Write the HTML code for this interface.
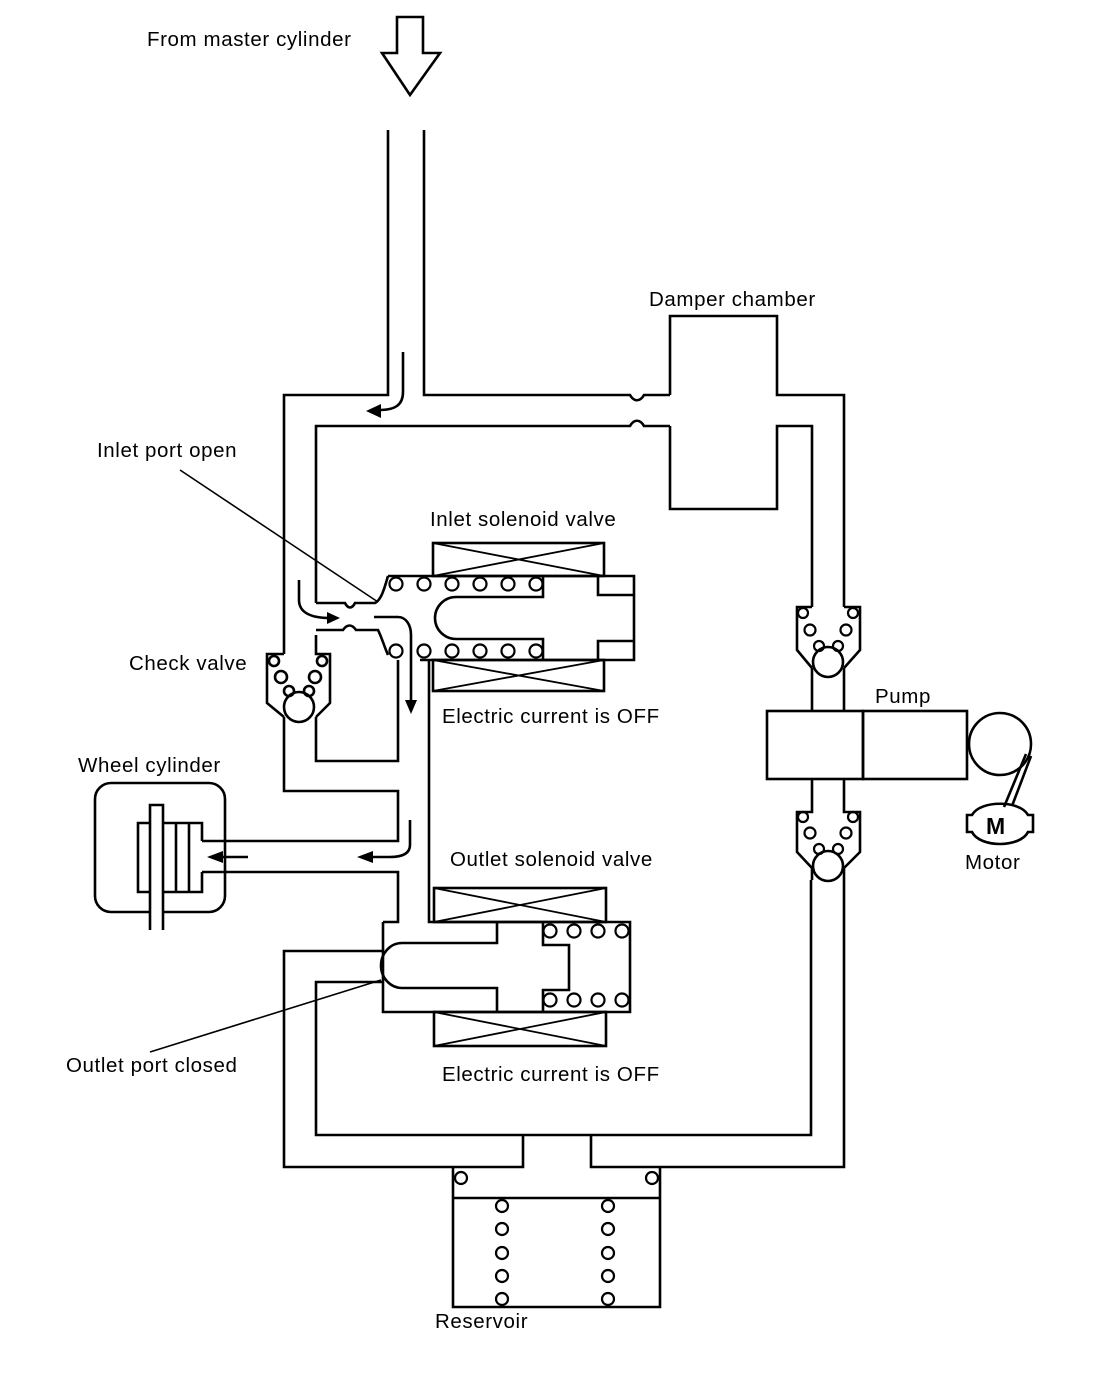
<!DOCTYPE html>
<html><head><meta charset="utf-8"><style>
html,body{margin:0;padding:0;background:#fff}
svg{display:block}
text{font-family:"Liberation Sans",Arial,sans-serif;font-size:20.5px;letter-spacing:0.6px;fill:#000}
</style></head><body>
<svg width="1120" height="1382" viewBox="0 0 1120 1382" xmlns="http://www.w3.org/2000/svg">
<g fill="none" stroke="#000" stroke-width="2.6" stroke-linejoin="miter">
<path d="M397,17 H423 V53 H440 L410,95 L382,53 H397 Z"/>
<path d="M388,130 V395 H284 V654"/>
<path d="M424,130 V395 H630 C634,402 640,402 644,395 H670"/>
<path d="M316,603 V426 H630 C634,419 640,419 644,426 H670"/>
<path d="M670,395 V316 H777 V395 H844 V607"/>
<path d="M670,426 V509 H777 V426 H812 V607"/>
<path d="M284,654 H267 V703 L284,717"/>
<path d="M316,635 V654 H330 V703 L316,717"/>
<circle cx="299" cy="707" r="15"/>
<circle cx="274" cy="661" r="5"/><circle cx="322" cy="661" r="5"/>
<circle cx="281" cy="677" r="6"/><circle cx="315" cy="677" r="6"/>
<circle cx="289" cy="691" r="5"/><circle cx="309" cy="691" r="5"/>
<path d="M284,717 V791 H398 V841 H202"/>
<path d="M316,717 V761 H398 V660"/>
<path d="M316,603 H345 C348,609 352,609 355,603 H375 C381,600 384,590 388,576"/>
<path d="M316,630 H343 C347,624 352,624 356,630 H378 C382,638 384,646 388,655"/>
<path d="M388,576 H634 V660 H420"/>
<path d="M598,576 V595 H634"/><path d="M598,660 V641 H634"/>
<path d="M543,576 V597 H456 A21,21 0 0 0 456,639 H543 V660"/>
<rect x="433" y="543" width="171" height="33"/>
<path d="M433,576 L604,543 M433,543 L604,576" stroke-width="1.8"/>
<rect x="433" y="660" width="171" height="31"/>
<path d="M433,691 L604,660 M433,660 L604,691" stroke-width="1.8"/>
<g stroke-width="2.2">
<circle cx="396" cy="584" r="6.5"/><circle cx="424" cy="584" r="6.5"/><circle cx="452" cy="584" r="6.5"/><circle cx="480" cy="584" r="6.5"/><circle cx="508" cy="584" r="6.5"/><circle cx="536" cy="584" r="6.5"/>
<circle cx="396" cy="651" r="6.5"/><circle cx="424" cy="651" r="6.5"/><circle cx="452" cy="651" r="6.5"/><circle cx="480" cy="651" r="6.5"/><circle cx="508" cy="651" r="6.5"/><circle cx="536" cy="651" r="6.5"/>
</g>
<path d="M429,660 V922 H497"/>
<path d="M202,872 H398 V922 H383"/>
<rect x="95" y="783" width="130" height="129" rx="16"/>
<path d="M202,841 V823 H138 V892 H202 V872"/>
<path d="M176,823 V892 M189,823 V892"/>
<path d="M150,930 V805 H163 V930" fill="#fff"/>
<path d="M383,922 V1012 H630 V922 H497"/>
<path d="M543,922 V945 H569 V990 H543 V1012"/>
<path d="M497,922 V943 H402 A21,22.5 0 0 0 402,988 H497 V1012"/>
<rect x="434" y="888" width="172" height="34"/>
<path d="M434,922 L606,888 M434,888 L606,922" stroke-width="1.8"/>
<rect x="434" y="1012" width="172" height="34"/>
<path d="M434,1046 L606,1012 M434,1012 L606,1046" stroke-width="1.8"/>
<g stroke-width="2.2">
<circle cx="550" cy="931" r="6.5"/><circle cx="574" cy="931" r="6.5"/><circle cx="598" cy="931" r="6.5"/><circle cx="622" cy="931" r="6.5"/>
<circle cx="550" cy="1000" r="6.5"/><circle cx="574" cy="1000" r="6.5"/><circle cx="598" cy="1000" r="6.5"/><circle cx="622" cy="1000" r="6.5"/>
</g>
<path d="M383,951 H284 V1167 H523 V1135"/>
<path d="M383,982 H316 V1135 H811 V880"/>
<path d="M591,1135 V1167 H844 V880"/>
<path d="M453,1167 V1307 H660 V1167 M453,1198 H660"/>
<g stroke-width="2.2">
<circle cx="461" cy="1178" r="6"/><circle cx="652" cy="1178" r="6"/>
<circle cx="502" cy="1206" r="6"/><circle cx="502" cy="1229" r="6"/><circle cx="502" cy="1253" r="6"/><circle cx="502" cy="1276" r="6"/><circle cx="502" cy="1299" r="6"/>
<circle cx="608" cy="1206" r="6"/><circle cx="608" cy="1229" r="6"/><circle cx="608" cy="1253" r="6"/><circle cx="608" cy="1276" r="6"/><circle cx="608" cy="1299" r="6"/>
</g>
<path d="M812,607 H797 V650 L812,668 M844,607 H860 V650 L844,668"/>
<circle cx="828" cy="662" r="15"/>
<g stroke-width="2.2">
<circle cx="803" cy="613" r="5"/><circle cx="853" cy="613" r="5"/>
<circle cx="810" cy="630" r="5.5"/><circle cx="846" cy="630" r="5.5"/>
<circle cx="819" cy="646" r="5"/><circle cx="838" cy="646" r="5"/>
</g>
<path d="M812,668 V711 M844,668 V711"/>
<rect x="767" y="711" width="96" height="68"/>
<rect x="863" y="711" width="104" height="68"/>
<path d="M812,779 V812 H797 V852 L812,868 V880 M844,779 V812 H860 V852 L844,868 V880"/>
<circle cx="828" cy="866" r="15"/>
<g stroke-width="2.2">
<circle cx="803" cy="817" r="5"/><circle cx="853" cy="817" r="5"/>
<circle cx="810" cy="833" r="5.5"/><circle cx="846" cy="833" r="5.5"/>
<circle cx="819" cy="849" r="5"/><circle cx="838" cy="849" r="5"/>
</g>
<ellipse cx="1000" cy="744" rx="31" ry="31"/>
<path d="M1026,754 L1004,807 M1031,756 L1012,806"/>
<path d="M972,815 C980,800 1020,800 1028,815 H1033 V832 H1028 C1020,848 980,848 972,832 H967 V815 Z"/>
<path d="M180,470 L378,602" stroke-width="1.6"/>
<path d="M150,1052 L381,980" stroke-width="1.6"/>
<path d="M403,352 V392 C403,405 395,410 380,410"/>
<path d="M299,580 V600 C299,612 310,618 330,618"/>
<path d="M374,617 H398 C406,617 411,625 411,635 V702"/>
<path d="M410,820 V845 C410,853 403,857 390,857 H372"/>
<path d="M248,857 H222"/>
</g>
<g fill="#000" stroke="none">
<path d="M366,411 L381,404 L381,418 Z"/>
<path d="M340,618 L327,612 L327,624 Z"/>
<path d="M411,714 L405,700 L417,700 Z"/>
<path d="M357,857 L373,851 L373,863 Z"/>
<path d="M207,857 L223,851 L223,863 Z"/>
</g>
<text x="147" y="46">From master cylinder</text>
<text x="649" y="306">Damper chamber</text>
<text x="97" y="457">Inlet port open</text>
<text x="430" y="526">Inlet solenoid valve</text>
<text x="129" y="670">Check valve</text>
<text x="442" y="723">Electric current is OFF</text>
<text x="875" y="703">Pump</text>
<text x="78" y="772">Wheel cylinder</text>
<text x="450" y="866">Outlet solenoid valve</text>
<text x="986" y="834" style="font-size:23px;font-weight:bold;letter-spacing:0">M</text>
<text x="965" y="869">Motor</text>
<text x="66" y="1072">Outlet port closed</text>
<text x="442" y="1081">Electric current is OFF</text>
<text x="435" y="1328">Reservoir</text>
</svg>
</body></html>
